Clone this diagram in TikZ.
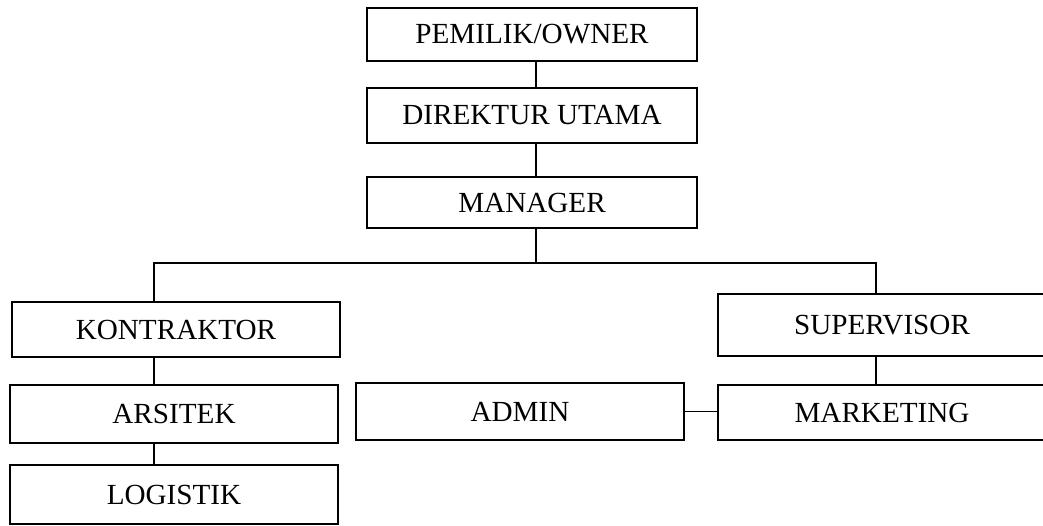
\documentclass[tikz,border=0pt]{standalone}
\usepackage{fontspec}
\setmainfont{Liberation Serif}

\tikzset{
  jabatan/.style={draw, line width=1pt, minimum width=6.56cm, minimum height=1.1cm,
    inner sep=0pt, font=\fontsize{16.6}{19}\selectfont},
  garis/.style={line width=1.1pt}
}

\begin{document}
\begin{tikzpicture}[x=0.02cm, y=-0.02cm]
\useasboundingbox (0,0) rectangle (1043,525);
% top
\node[jabatan, minimum width=6.6cm, minimum height=1.06cm] (owner) at (532,34.5) {PEMILIK/OWNER};
\node[jabatan, minimum width=6.6cm] (dirut) at (532,115.5) {DIREKTUR UTAMA};
\node[jabatan, minimum width=6.6cm, minimum height=1.02cm] (manager) at (532,202.5) {MANAGER};
% left column
\node[jabatan] (kontraktor) at (176,329.5) {KONTRAKTOR};
\node[jabatan, minimum height=1.16cm] (arsitek) at (174,414) {ARSITEK};
\node[jabatan, minimum height=1.18cm] (logistik) at (174,494.5) {LOGISTIK};
% middle and right
\node[jabatan, minimum height=1.14cm] (admin) at (520,411.5) {ADMIN};
\node[jabatan, minimum height=1.24cm] (supervisor) at (882,325) {SUPERVISOR};
\node[jabatan] (marketing) at (882,412.5) {MARKETING};

\coordinate (spine) at (536,263);
\coordinate (kiri) at (154,263);
\coordinate (kanan) at (876,263);

\draw[garis] (owner.south -| spine) -- (dirut.north -| spine);
\draw[garis] (dirut.south -| spine) -- (manager.north -| spine);
\draw[garis] (manager.south -| spine) -- (spine);
\draw[garis] (kontraktor.north -| kiri) -- (kiri) -- (kanan) -- (supervisor.north -| kanan);
\draw[garis] (kontraktor.south -| kiri) -- (arsitek.north -| kiri);
\draw[garis] (arsitek.south -| kiri) -- (logistik.north -| kiri);
\draw[garis] (supervisor.south -| kanan) -- (marketing.north -| kanan);
\draw[garis] (admin.east) -- (admin.east -| marketing.west);
\end{tikzpicture}
\end{document}
